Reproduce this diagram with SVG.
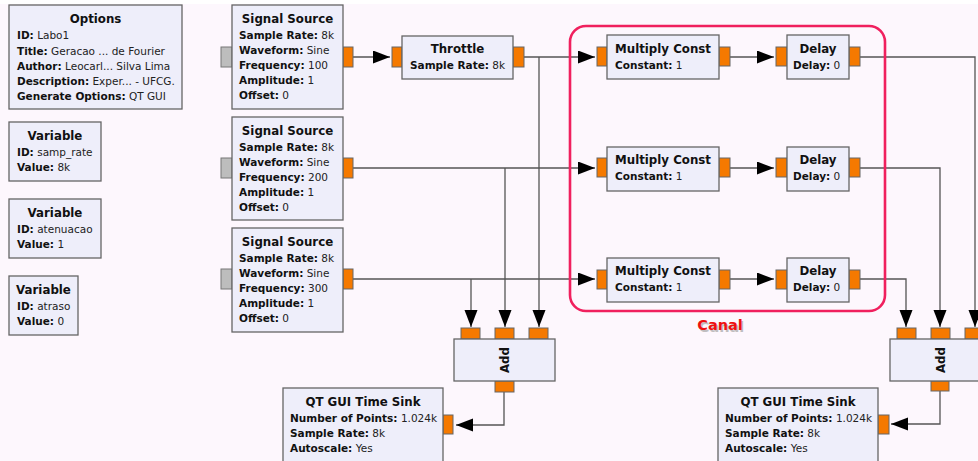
<svg xmlns="http://www.w3.org/2000/svg" width="978" height="461" viewBox="0 0 978 461">
<style>
.bg{fill:#fdf7fd}
.box{fill:#eeeefa;stroke:#666;stroke-width:1.3}
.port{fill:#f57900;stroke:#666;stroke-width:1}
.gport{fill:#bdbdbd;stroke:#777;stroke-width:1}
text{font-family:"DejaVu Sans","Liberation Sans",sans-serif;font-size:10.5px;fill:#111}
.ti{font-weight:bold;text-anchor:middle;font-size:11.8px}
.k{font-weight:bold}
.v{font-weight:normal;fill:#222}
.wire{fill:none;stroke:#555;stroke-width:1.3}
.canal{fill:none;stroke:#f0205e;stroke-width:2.6}
</style>
<defs>
<marker id="ah" markerUnits="userSpaceOnUse" markerWidth="18" markerHeight="14" refX="17" refY="6.5" orient="auto">
<path d="M0,0 L17,6.5 L0,13 z" fill="#000"/>
</marker>
</defs>
<rect class="bg" x="0" y="0" width="978" height="461"/>
<rect x="0" y="0" width="978" height="4" fill="#ffffff"/>

<g id="connectors">
<path class="wire" d="M353,57 H390" marker-end="url(#ah)"/>
<path class="wire" d="M524,57 H595" marker-end="url(#ah)"/>
<path class="wire" d="M539,57 V327" marker-end="url(#ah)"/>
<path class="wire" d="M353,168 H595" marker-end="url(#ah)"/>
<path class="wire" d="M505,168 V327" marker-end="url(#ah)"/>
<path class="wire" d="M353,279 H595" marker-end="url(#ah)"/>
<path class="wire" d="M471,279 V327" marker-end="url(#ah)"/>
<path class="wire" d="M730,57 H774" marker-end="url(#ah)"/>
<path class="wire" d="M730,168 H774" marker-end="url(#ah)"/>
<path class="wire" d="M730,279 H774" marker-end="url(#ah)"/>
<path class="wire" d="M860,57 H975 V327" marker-end="url(#ah)"/>
<path class="wire" d="M860,168 H940 V327" marker-end="url(#ah)"/>
<path class="wire" d="M860,279 H906 V327" marker-end="url(#ah)"/>
<path class="wire" d="M504,392 V425 H456" marker-end="url(#ah)"/>
<path class="wire" d="M940,391 V424 H891" marker-end="url(#ah)"/>
</g>

<g id="options">
<rect class="box" x="9" y="5" width="173" height="104"/>
<text class="ti" x="95.5" y="23">Options</text>
<text x="17" y="39"><tspan class="k">ID:</tspan><tspan class="v"> Labo1</tspan></text>
<text x="17" y="55"><tspan class="k">Title:</tspan><tspan class="v"> Geracao ... de Fourier</tspan></text>
<text x="17" y="70"><tspan class="k">Author:</tspan><tspan class="v"> Leocarl... Silva Lima</tspan></text>
<text x="17" y="85"><tspan class="k">Description:</tspan><tspan class="v"> Exper... - UFCG.</tspan></text>
<text x="17" y="100"><tspan class="k">Generate Options:</tspan><tspan class="v"> QT GUI</tspan></text>
</g>

<g id="var_samp_rate">
<rect class="box" x="9" y="122" width="92" height="59"/>
<text class="ti" x="55" y="140">Variable</text>
<text x="17" y="156"><tspan class="k">ID:</tspan><tspan class="v"> samp_rate</tspan></text>
<text x="17" y="171"><tspan class="k">Value:</tspan><tspan class="v"> 8k</tspan></text>
</g>
<g id="var_atenuacao">
<rect class="box" x="9" y="199" width="92" height="59"/>
<text class="ti" x="55" y="217">Variable</text>
<text x="17" y="233"><tspan class="k">ID:</tspan><tspan class="v"> atenuacao</tspan></text>
<text x="17" y="248"><tspan class="k">Value:</tspan><tspan class="v"> 1</tspan></text>
</g>
<g id="var_atraso">
<rect class="box" x="9" y="276" width="69" height="59"/>
<text class="ti" x="43.5" y="294">Variable</text>
<text x="17" y="310"><tspan class="k">ID:</tspan><tspan class="v"> atraso</tspan></text>
<text x="17" y="325"><tspan class="k">Value:</tspan><tspan class="v"> 0</tspan></text>
</g>

<g id="sig_src_1">
<rect class="gport" x="221" y="47" width="11" height="20"/>
<rect class="port" x="343" y="47" width="10" height="20"/>
<rect class="box" x="232" y="5" width="111" height="104"/>
<text class="ti" x="287.5" y="23">Signal Source</text>
<text x="239" y="39"><tspan class="k">Sample Rate:</tspan><tspan class="v"> 8k</tspan></text>
<text x="239" y="54"><tspan class="k">Waveform:</tspan><tspan class="v"> Sine</tspan></text>
<text x="239" y="69"><tspan class="k">Frequency:</tspan><tspan class="v"> 100</tspan></text>
<text x="239" y="84"><tspan class="k">Amplitude:</tspan><tspan class="v"> 1</tspan></text>
<text x="239" y="99"><tspan class="k">Offset:</tspan><tspan class="v"> 0</tspan></text>
</g>
<g id="sig_src_2">
<rect class="gport" x="221" y="158" width="11" height="20"/>
<rect class="port" x="343" y="158" width="10" height="20"/>
<rect class="box" x="232" y="117" width="111" height="103"/>
<text class="ti" x="287.5" y="135">Signal Source</text>
<text x="239" y="151"><tspan class="k">Sample Rate:</tspan><tspan class="v"> 8k</tspan></text>
<text x="239" y="166"><tspan class="k">Waveform:</tspan><tspan class="v"> Sine</tspan></text>
<text x="239" y="181"><tspan class="k">Frequency:</tspan><tspan class="v"> 200</tspan></text>
<text x="239" y="196"><tspan class="k">Amplitude:</tspan><tspan class="v"> 1</tspan></text>
<text x="239" y="211"><tspan class="k">Offset:</tspan><tspan class="v"> 0</tspan></text>
</g>
<g id="sig_src_3">
<rect class="gport" x="221" y="269" width="11" height="20"/>
<rect class="port" x="343" y="269" width="10" height="20"/>
<rect class="box" x="232" y="228" width="111" height="104"/>
<text class="ti" x="287.5" y="246">Signal Source</text>
<text x="239" y="262"><tspan class="k">Sample Rate:</tspan><tspan class="v"> 8k</tspan></text>
<text x="239" y="277"><tspan class="k">Waveform:</tspan><tspan class="v"> Sine</tspan></text>
<text x="239" y="292"><tspan class="k">Frequency:</tspan><tspan class="v"> 300</tspan></text>
<text x="239" y="307"><tspan class="k">Amplitude:</tspan><tspan class="v"> 1</tspan></text>
<text x="239" y="322"><tspan class="k">Offset:</tspan><tspan class="v"> 0</tspan></text>
</g>

<g id="throttle">
<rect class="port" x="392" y="47" width="10" height="20"/>
<rect class="port" x="513" y="47" width="11" height="20"/>
<rect class="box" x="402" y="36" width="111" height="43"/>
<text class="ti" x="457.5" y="53">Throttle</text>
<text x="410" y="69"><tspan class="k">Sample Rate:</tspan><tspan class="v"> 8k</tspan></text>
</g>

<g id="canal">
<rect class="canal" x="570" y="26" width="315" height="285" rx="16" ry="16"/>
<text x="721.5" y="331.5" text-anchor="middle" style="font-size:14.5px;font-weight:bold;fill:#999;opacity:0.6">Canal</text>
<text x="720" y="330" text-anchor="middle" style="font-size:14.5px;font-weight:bold;fill:#ee1111">Canal</text>
</g>

<g id="mult_1">
<rect class="port" x="597" y="47" width="10" height="19"/>
<rect class="port" x="719" y="47" width="11" height="19"/>
<rect class="box" x="607" y="35" width="112" height="44"/>
<text class="ti" x="663" y="53">Multiply Const</text>
<text x="615" y="69"><tspan class="k">Constant:</tspan><tspan class="v"> 1</tspan></text>
</g>
<g id="mult_2">
<rect class="port" x="597" y="158" width="10" height="19"/>
<rect class="port" x="719" y="158" width="11" height="19"/>
<rect class="box" x="607" y="147" width="112" height="44"/>
<text class="ti" x="663" y="164">Multiply Const</text>
<text x="615" y="180"><tspan class="k">Constant:</tspan><tspan class="v"> 1</tspan></text>
</g>
<g id="mult_3">
<rect class="port" x="597" y="270" width="10" height="19"/>
<rect class="port" x="719" y="270" width="11" height="19"/>
<rect class="box" x="607" y="258" width="112" height="44"/>
<text class="ti" x="663" y="275">Multiply Const</text>
<text x="615" y="291"><tspan class="k">Constant:</tspan><tspan class="v"> 1</tspan></text>
</g>

<g id="delay_1">
<rect class="port" x="776" y="47" width="11" height="19"/>
<rect class="port" x="849" y="47" width="11" height="19"/>
<rect class="box" x="787" y="35" width="62" height="44"/>
<text class="ti" x="818" y="53">Delay</text>
<text x="793" y="69"><tspan class="k">Delay:</tspan><tspan class="v"> 0</tspan></text>
</g>
<g id="delay_2">
<rect class="port" x="776" y="158" width="11" height="19"/>
<rect class="port" x="849" y="158" width="11" height="19"/>
<rect class="box" x="787" y="147" width="62" height="44"/>
<text class="ti" x="818" y="164">Delay</text>
<text x="793" y="180"><tspan class="k">Delay:</tspan><tspan class="v"> 0</tspan></text>
</g>
<g id="delay_3">
<rect class="port" x="776" y="270" width="11" height="19"/>
<rect class="port" x="849" y="270" width="11" height="19"/>
<rect class="box" x="787" y="258" width="62" height="44"/>
<text class="ti" x="818" y="275">Delay</text>
<text x="793" y="291"><tspan class="k">Delay:</tspan><tspan class="v"> 0</tspan></text>
</g>

<g id="add_1">
<rect class="port" x="461" y="328" width="19" height="11"/>
<rect class="port" x="495" y="328" width="19" height="11"/>
<rect class="port" x="529" y="328" width="19" height="11"/>
<rect class="port" x="495" y="381" width="19" height="11"/>
<rect class="box" x="454" y="339" width="101" height="42"/>
<text class="ti" transform="translate(508.5,360) rotate(-90)">Add</text>
</g>
<g id="add_2">
<rect class="port" x="897" y="328" width="19" height="11"/>
<rect class="port" x="931" y="328" width="19" height="11"/>
<rect class="port" x="965" y="328" width="19" height="11"/>
<rect class="port" x="931" y="381" width="18" height="10"/>
<rect class="box" x="890" y="339" width="101" height="42"/>
<text class="ti" transform="translate(944.5,360) rotate(-90)">Add</text>
</g>

<g id="sink_1">
<rect class="port" x="443" y="415" width="10" height="19"/>
<rect class="box" x="283" y="388" width="160" height="80"/>
<text class="ti" x="363" y="406">QT GUI Time Sink</text>
<text x="290" y="422"><tspan class="k">Number of Points:</tspan><tspan class="v"> 1.024k</tspan></text>
<text x="290" y="437"><tspan class="k">Sample Rate:</tspan><tspan class="v"> 8k</tspan></text>
<text x="290" y="452"><tspan class="k">Autoscale:</tspan><tspan class="v"> Yes</tspan></text>
</g>
<g id="sink_2">
<rect class="port" x="878" y="415" width="11" height="19"/>
<rect class="box" x="718" y="388" width="160" height="80"/>
<text class="ti" x="798" y="406">QT GUI Time Sink</text>
<text x="725" y="422"><tspan class="k">Number of Points:</tspan><tspan class="v"> 1.024k</tspan></text>
<text x="725" y="437"><tspan class="k">Sample Rate:</tspan><tspan class="v"> 8k</tspan></text>
<text x="725" y="452"><tspan class="k">Autoscale:</tspan><tspan class="v"> Yes</tspan></text>
</g>
</svg>
